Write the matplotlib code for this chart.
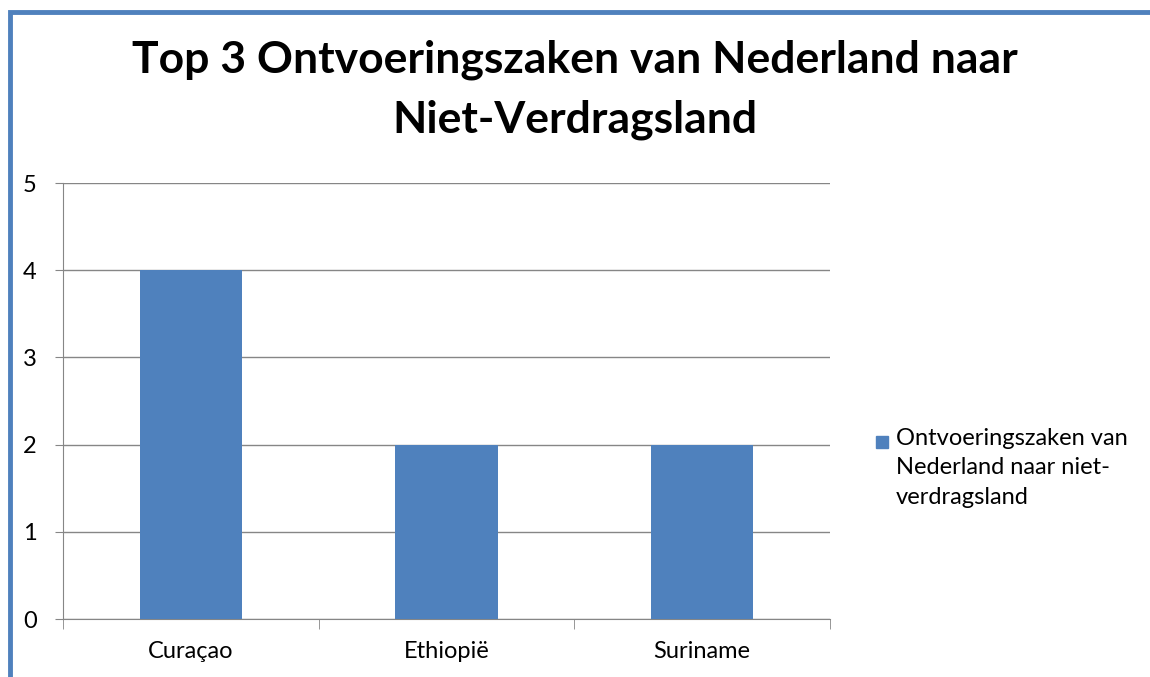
import matplotlib.pyplot as plt
from matplotlib.patches import Rectangle

# Data
landen = ['Curaçao', 'Ethiopië', 'Suriname']
zaken = [4, 2, 2]
serie_naam = 'Ontvoeringszaken van\nNederland naar niet-\nverdragsland'
titel = 'Top 3 Ontvoeringszaken van Nederland naar\nNiet-Verdragsland'

blauw = '#4f81bd'
grijs = '#868686'
plt.rcParams['font.family'] = ['Lato', 'DejaVu Sans']

fig = plt.figure(figsize=(11.5, 6.77), dpi=100)
ax = fig.add_axes([63 / 1150, 1 - 619 / 677, (830 - 63) / 1150, (619 - 183) / 677])

# Bars
x = range(len(landen))
ax.bar(x, zaken, width=0.4, color=blauw, zorder=3)
ax.set_xlim(-0.5, len(landen) - 0.5)
ax.set_ylim(0, 5)
ax.set_yticks(range(0, 6))
ax.set_xticks(list(x))
ax.set_xticklabels(landen)
ax.set_xticks([i - 0.5 for i in range(len(landen) + 1)], minor=True)
ax.tick_params(axis='x', which='major', length=0, pad=16, labelsize=17)
ax.tick_params(axis='x', which='minor', length=7, color=grijs)
ax.tick_params(axis='y', length=6, color=grijs, labelsize=17, pad=13)
ax.grid(axis='y', color=grijs, linewidth=1, zorder=0)
for s in ['top', 'right']:
    ax.spines[s].set_visible(False)
for s in ['left', 'bottom']:
    ax.spines[s].set_color(grijs)

# Title
fig.text(575 / 1150, 1 - 90 / 677, titel, ha='center', va='center',
         fontsize=32, fontweight='bold', linespacing=1.6)

# Legend
fig.patches.append(Rectangle((876 / 1150, 1 - 448 / 677), 12 / 1150, 12 / 677,
                             transform=fig.transFigure, color=blauw))
fig.text(896 / 1150, 1 - 428 / 677, serie_naam, ha='left', va='top',
         fontsize=17, linespacing=1.5)

# Border
fig.patches.append(Rectangle((10 / 1150, -0.1), 1.2, 1 - 12 / 677 + 0.1,
                             transform=fig.transFigure, fill=False,
                             edgecolor=blauw, linewidth=3.5))

plt.savefig('out.png', dpi=100)
